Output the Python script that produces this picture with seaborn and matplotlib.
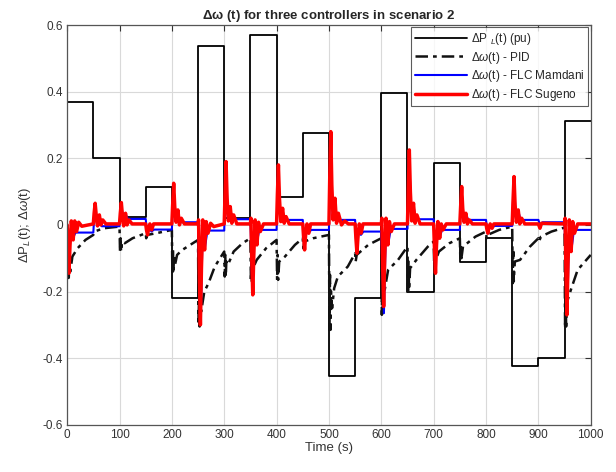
import matplotlib
matplotlib.use("Agg")
import matplotlib.pyplot as plt
import seaborn as sns
import pandas as pd
import numpy as np

# ---------------- data ----------------
# Load disturbance: step value held from each start time for 50 s
load_t = [0, 50, 100, 150, 200, 250, 300, 350, 400, 450, 500, 550, 600, 650, 700, 750, 800, 850, 900, 950, 1000]
load_v = [0.37, 0.20, 0.025, 0.113, -0.22, 0.537, 0.022, 0.57, 0.085, 0.275, -0.455, -0.22, 0.395, -0.20, 0.185, -0.112, -0.04, -0.425, -0.40, 0.313, 0.313]

# PID response (dash-dot)
pid_t = [0, 1, 2, 3, 4, 6, 10, 20, 35, 50,
         52, 70, 100,
         101, 102, 103, 105, 110, 125, 150,
         151, 153, 170, 200,
         201, 202, 203, 204, 206, 210, 220, 235, 250,
         251, 252, 253, 254, 256, 262, 270, 282, 300,
         301, 302, 303, 304, 307, 318, 335, 350,
         351, 352, 353, 355, 362, 380, 400,
         401, 402, 403, 405, 416, 435, 450,
         451, 453, 470, 500,
         501, 502, 503, 504, 506, 510, 517, 536, 550,
         551, 553, 575, 600,
         601, 602, 603, 604, 606, 613, 632, 650,
         651, 652, 653, 655, 667, 689, 700,
         701, 702, 703, 710, 730, 750,
         751, 752, 753, 756, 780, 800,
         801, 803, 825, 850,
         851, 852, 853, 855, 865, 884, 900,
         901, 905, 925, 950,
         951, 952, 953, 955, 962, 975, 1000]
pid_v = [0.0, -0.16, -0.10, -0.165, -0.11, -0.14, -0.095, -0.07, -0.045, -0.03,
         -0.02, -0.01, -0.005,
         -0.08, -0.04, -0.08, -0.05, -0.055, -0.04, -0.025,
         -0.04, -0.03, -0.025, -0.015,
         -0.15, -0.07, -0.145, -0.09, -0.12, -0.09, -0.075, -0.06, -0.045,
         -0.30, -0.20, -0.305, -0.22, -0.26, -0.20, -0.175, -0.125, -0.08,
         -0.155, -0.09, -0.155, -0.11, -0.12, -0.08, -0.055, -0.04,
         -0.17, -0.10, -0.17, -0.13, -0.105, -0.07, -0.045,
         -0.165, -0.09, -0.165, -0.11, -0.095, -0.06, -0.04,
         -0.07, -0.05, -0.04, -0.03,
         -0.32, -0.15, -0.315, -0.20, -0.25, -0.19, -0.155, -0.125, -0.085,
         -0.11, -0.09, -0.06, -0.04,
         -0.27, -0.15, -0.265, -0.18, -0.20, -0.135, -0.105, -0.065,
         -0.20, -0.11, -0.195, -0.13, -0.105, -0.065, -0.05,
         -0.12, -0.07, -0.11, -0.08, -0.055, -0.04,
         -0.105, -0.06, -0.10, -0.065, -0.035, -0.02,
         -0.04, -0.03, -0.015, -0.005,
         -0.175, -0.08, -0.17, -0.11, -0.105, -0.065, -0.04,
         -0.05, -0.035, -0.02, -0.008,
         -0.31, -0.20, -0.305, -0.23, -0.195, -0.135, -0.09]

# FLC Mamdani response (blue)
mam_t = [0, 3, 7, 11, 16, 50,
         53, 57, 61, 66, 100,
         103, 107, 111, 116, 150,
         153, 157, 161, 166, 200,
         203, 207, 211, 216, 250,
         255, 259, 263, 268, 300,
         303, 307, 311, 316, 350,
         354, 358, 362, 367, 400,
         403, 407, 411, 416, 450,
         453, 457, 461, 466, 500,
         503, 507, 511, 516, 550,
         553, 557, 561, 566, 600,
         605, 609, 613, 618, 650,
         653, 657, 661, 666, 700,
         703, 707, 711, 716, 750,
         753, 757, 761, 766, 800,
         803, 807, 811, 816, 850,
         853, 857, 861, 866, 900,
         903, 908, 950,
         955, 959, 963, 968, 1000]
mam_v = [0.0, -0.14, -0.01, -0.04, -0.023, -0.023,
         0.06, 0.0, 0.02, -0.004, -0.004,
         0.065, 0.02, 0.035, 0.018, 0.018,
         -0.028, -0.01, -0.02, -0.014, -0.014,
         0.12, 0.02, 0.04, 0.008, 0.008,
         -0.29, 0.0, -0.07, -0.017, -0.017,
         0.185, 0.02, 0.05, 0.017, 0.017,
         -0.205, 0.0, -0.055, -0.015, -0.015,
         0.175, 0.02, 0.045, 0.015, 0.015,
         -0.07, -0.01, -0.025, -0.015, -0.015,
         0.27, 0.03, 0.07, 0.015, 0.015,
         -0.085, -0.01, -0.03, -0.02, -0.02,
         -0.265, 0.0, -0.06, -0.012, -0.012,
         0.22, 0.03, 0.06, 0.017, 0.017,
         -0.14, 0.0, -0.04, -0.015, -0.015,
         0.11, 0.02, 0.035, 0.015, 0.015,
         -0.025, -0.002, -0.01, -0.003, -0.003,
         0.14, 0.02, 0.045, 0.015, 0.015,
         0.0, 0.008, 0.008,
         -0.265, 0.0, -0.075, -0.015, -0.015]

# FLC Sugeno response (red), one sub-list per load step
sug_t = [[0, 1.5, 3.5, 5.5, 8, 11.5, 14.5, 18, 22, 28, 50],
         [51.5, 53.5, 55.5, 58, 61.5, 64.5, 68, 74, 100],
         [101.5, 103.5, 105.5, 108, 111.5, 114.5, 118, 124, 150],
         [151.5, 153.5, 155.5, 158, 161.5, 165, 200],
         [201.5, 203.5, 205.5, 208, 211.5, 214.5, 218, 224, 250],
         [251, 252.5, 254.5, 256.5, 259, 262.5, 265.5, 269, 274, 280, 300],
         [301.5, 303.5, 305.5, 308, 311.5, 314.5, 318, 324, 350],
         [351, 352.5, 354.5, 356.5, 359, 362.5, 365.5, 369, 375, 400],
         [401.5, 403.5, 405.5, 408, 411.5, 414.5, 418, 424, 450],
         [451.5, 453.5, 455.5, 458, 461.5, 465, 500],
         [501.5, 503.5, 505.5, 508, 511.5, 514.5, 518, 524, 530, 537, 550],
         [551.5, 553.5, 555.5, 558, 561.5, 565, 600],
         [601, 602.5, 604.5, 606.5, 609, 612.5, 615.5, 619, 625, 650],
         [651.5, 653.5, 655.5, 658, 661.5, 664.5, 668, 674, 700],
         [701.5, 703.5, 705.5, 708, 711.5, 714.5, 718, 724, 750],
         [751.5, 753.5, 755.5, 758, 761.5, 764.5, 768, 774, 800],
         [801.5, 803.5, 805.5, 808, 811.5, 815, 850],
         [851.5, 853.5, 855.5, 858, 861.5, 864.5, 868, 874, 900],
         [903, 906, 950],
         [951, 952.5, 954.5, 956.5, 959, 962.5, 965.5, 969, 975, 1000]]
sug_v = [[0.0, -0.07, -0.145, -0.06, 0.012, -0.045, 0.012, -0.02, 0.008, -0.004, 0.003],
         [0.035, 0.065, 0.03, -0.003, 0.03, 0.0, 0.015, 0.003, 0.003],
         [0.035, 0.067, 0.03, -0.003, 0.035, 0.0, 0.015, 0.003, 0.003],
         [-0.015, -0.03, -0.012, 0.003, -0.015, 0.003, 0.003],
         [0.06, 0.125, 0.055, 0.008, 0.045, 0.0, 0.02, 0.003, 0.003],
         [0.015, -0.15, -0.30, -0.13, 0.015, -0.075, 0.01, -0.025, 0.005, -0.005, 0.003],
         [0.09, 0.19, 0.08, 0.012, 0.055, 0.005, 0.03, 0.003, 0.003],
         [0.02, -0.10, -0.21, -0.09, 0.015, -0.06, 0.008, -0.02, 0.003, 0.003],
         [0.09, 0.18, 0.08, 0.01, 0.05, 0.005, 0.025, 0.003, 0.003],
         [-0.035, -0.075, -0.03, 0.003, -0.025, 0.003, 0.003],
         [0.14, 0.28, 0.12, 0.015, 0.08, 0.005, 0.035, 0.0, 0.012, 0.003, 0.003],
         [-0.04, -0.085, -0.035, 0.003, -0.025, 0.003, 0.003],
         [0.02, -0.12, -0.245, -0.10, 0.02, -0.06, 0.01, -0.02, 0.003, 0.003],
         [0.11, 0.225, 0.10, 0.012, 0.065, 0.005, 0.03, 0.003, 0.003],
         [-0.07, -0.145, -0.06, 0.01, -0.04, 0.003, -0.015, 0.003, 0.003],
         [0.055, 0.115, 0.05, 0.008, 0.035, 0.003, 0.015, 0.003, 0.003],
         [-0.012, -0.025, -0.01, 0.003, -0.01, 0.003, 0.003],
         [0.07, 0.145, 0.06, 0.008, 0.045, 0.003, 0.02, 0.003, 0.003],
         [-0.01, 0.005, 0.003],
         [0.02, -0.13, -0.27, -0.12, 0.015, -0.08, 0.01, -0.025, 0.003, 0.003]]

x_ticks = [0, 100, 200, 300, 400, 500, 600, 700, 800, 900, 1000]
y_ticks = [-0.6, -0.4, -0.2, 0, 0.2, 0.4, 0.6]
y_ticklabels = ["-0.6", "-0.4", "-0.2", "0", "0.2", "0.4", "0.6"]

# ---------------- style ----------------
sns.set_theme(style="white")
plt.rcParams["font.family"] = ["Liberation Sans", "DejaVu Sans"]
plt.rcParams["mathtext.fontset"] = "custom"
plt.rcParams["mathtext.rm"] = "Liberation Sans"
plt.rcParams["mathtext.it"] = "Liberation Sans:italic"
plt.rcParams["mathtext.bf"] = "Liberation Sans:bold"

fig = plt.figure(figsize=(6.16, 4.72), dpi=100)
ax = fig.add_axes([0.109, 0.100, 0.850, 0.847])

load_df = pd.DataFrame({"t": load_t, "v": load_v})
pid_df = pd.DataFrame({"t": pid_t, "v": pid_v})
mam_df = pd.DataFrame({"t": mam_t, "v": mam_v})
sug_df = pd.DataFrame({"t": [x for seg in sug_t for x in seg],
                       "v": [y for seg in sug_v for y in seg]})

sns.lineplot(data=load_df, x="t", y="v", ax=ax, color="black", lw=1.3,
             drawstyle="steps-post", sort=False, estimator=None,
             label=r"$\Delta$P $_{L}$(t) (pu)")
sns.lineplot(data=pid_df, x="t", y="v", ax=ax, color="#111111", lw=1.8,
             linestyle=(0, (5, 2, 1.5, 2)), sort=False, estimator=None,
             label=r"$\Delta\omega$(t) - PID")
sns.lineplot(data=mam_df, x="t", y="v", ax=ax, color="#0000ff", lw=1.5,
             sort=False, estimator=None, label=r"$\Delta\omega$(t) - FLC Mamdani")
sns.lineplot(data=sug_df, x="t", y="v", ax=ax, color="#ff0000", lw=2.5,
             sort=False, estimator=None, label=r"$\Delta\omega$(t) - FLC Sugeno")

ax.set_xlim(0, 1000)
ax.set_ylim(-0.6, 0.6)
ax.set_xticks(x_ticks)
ax.set_xticklabels([str(v) for v in x_ticks])
ax.set_yticks(y_ticks)
ax.set_yticklabels(y_ticklabels)
ax.grid(True, color="#d9d9d9", lw=0.8)
ax.tick_params(direction="in", length=4, width=0.8, top=True, right=True,
               labelsize=8.5, colors="#333333", pad=3)
for s in ax.spines.values():
    s.set_color("#555555")
    s.set_linewidth(0.9)

ax.set_xlabel("Time (s)", fontsize=9.5, color="#333333", labelpad=1)
ax.set_ylabel(r"$\Delta$P$_{L}$(t); $\Delta\omega$(t)", fontsize=9.5, color="#333333", labelpad=7)
ax.set_title(r"$\mathbf{\Delta\omega}$ (t) for three controllers in scenario 2",
             fontsize=9.5, fontweight="bold", pad=4)

leg = ax.legend(loc="upper right", fontsize=8.5, frameon=True, fancybox=False,
                borderpad=0.3, labelspacing=0.22, handlelength=4.4,
                handletextpad=0.4, borderaxespad=0.2)
leg.get_frame().set_edgecolor("#333333")
leg.get_frame().set_linewidth(0.8)

fig.savefig("out.png", dpi=100)
